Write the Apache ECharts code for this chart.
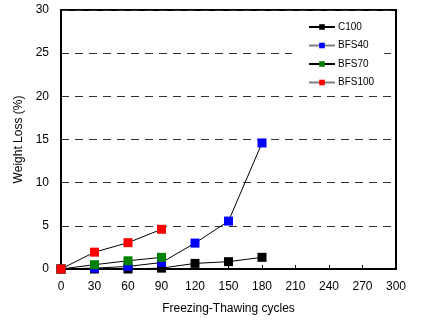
<!DOCTYPE html>
<html>
<head>
<meta charset="utf-8">
<script src="https://cdn.jsdelivr.net/npm/echarts@6/dist/echarts.min.js"></script>
<style>
html, body { margin: 0; padding: 0; background: #fff; }
#chart { width: 422px; height: 320px; }
</style>
</head>
<body>
<div id="chart"></div>
<script>
var cycles = [0, 30, 60, 90, 120, 150, 180];
var c100 = [0, 0, 0, 0.1, 0.65, 0.85, 1.35];
var bfs40 = [0, 0.1, 0.3, 0.75, 3.0, 5.55, 14.6];
var bfs70 = [0, 0.5, 0.95, 1.35];
var bfs100 = [0, 1.95, 3.05, 4.6];

function pairs(xs, ys) {
    var out = [];
    for (var i = 0; i < ys.length; i++) {
        out.push([xs[i], ys[i]]);
    }
    return out;
}

function makeSeries(name, values, color) {
    return {
        name: name,
        type: 'line',
        data: pairs(cycles, values),
        symbol: 'rect',
        symbolSize: 9,
        itemStyle: { color: color },
        lineStyle: { color: '#000', width: 1 },
        animation: false
    };
}

var dom = document.getElementById('chart');
var myChart = echarts.init(dom);
var option = {
    textStyle: { fontFamily: 'Liberation Sans, Arial, sans-serif' },
    grid: {
        left: 61,
        right: 26,
        top: 10,
        bottom: 50,
        show: true,
        borderColor: '#000',
        borderWidth: 2
    },
    legend: {
        orient: 'vertical',
        left: 292,
        top: 17,
        width: 96,
        padding: [5, 10, 4, 16],
        backgroundColor: '#fff',
        itemWidth: 26,
        itemHeight: 7,
        itemGap: 8.5,
        textStyle: { fontSize: 10, color: '#000', padding: [0, 0, 0, -2] },
        data: [
            { name: 'C100', lineStyle: { color: '#000' } },
            { name: 'BFS40', lineStyle: { color: '#808080' } },
            { name: 'BFS70', lineStyle: { color: '#000' } },
            { name: 'BFS100', lineStyle: { color: '#808080' } }
        ]
    },
    xAxis: {
        type: 'value',
        min: 0,
        max: 300,
        interval: 30,
        name: 'Freezing-Thawing cycles',
        nameLocation: 'middle',
        nameGap: 34,
        nameTextStyle: { fontSize: 12, color: '#000' },
        axisLine: { lineStyle: { color: '#000', width: 2 } },
        axisTick: { inside: true, length: 4, lineStyle: { color: '#000' } },
        axisLabel: { fontSize: 12, color: '#000', margin: 12 },
        splitLine: { show: false }
    },
    yAxis: {
        type: 'value',
        min: 0,
        max: 30,
        interval: 5,
        name: 'Weight Loss (%)',
        nameLocation: 'middle',
        nameGap: 30,
        nameTextStyle: { fontSize: 12, color: '#000' },
        axisLine: { show: true, lineStyle: { color: '#000', width: 2 } },
        axisTick: { show: false },
        axisLabel: { fontSize: 12, color: '#000', margin: 12 },
        splitLine: { show: true, lineStyle: { color: '#333', type: [8, 6], width: 1 } }
    },
    series: [
        makeSeries('C100', c100, '#000'),
        makeSeries('BFS40', bfs40, '#0000ff'),
        makeSeries('BFS70', bfs70, '#008000'),
        makeSeries('BFS100', bfs100, '#ff0000')
    ]
};
myChart.setOption(option, true);
window.onresize = myChart.resize;
</script>
</body>
</html>
